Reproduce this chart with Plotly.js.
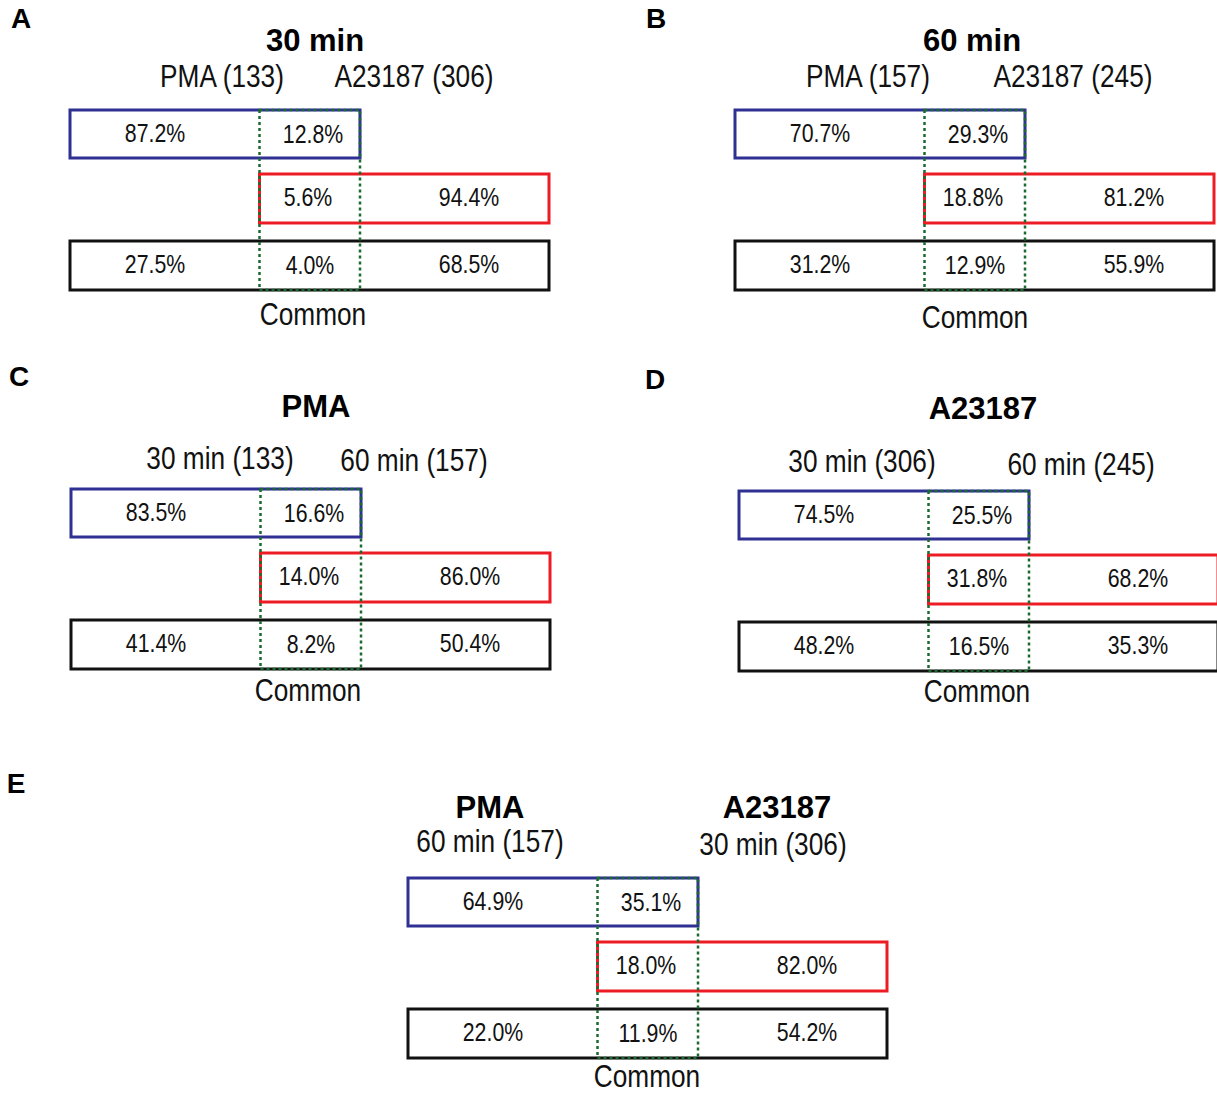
<!DOCTYPE html>
<html>
<head>
<meta charset="utf-8">
<script src="https://cdn.plot.ly/plotly-3.0.1.min.js"></script>
<style>html,body{margin:0;padding:0;background:#fff;}#chart{width:1217px;height:1093px;}</style>
</head>
<body>
<div id="chart"></div>
<script>
// ---------- DATA ----------
const panelLetters = ['A', 'B', 'C', 'D', 'E'];
const panelTitles = ['30 min', '60 min', 'PMA', 'A23187', ''];
const leftTitles = ['', '', '', '', 'PMA'];
const rightTitles = ['', '', '', '', 'A23187'];
const leftLabels = ['PMA (133)', 'PMA (157)', '30 min (133)', '30 min (306)', '60 min (157)'];
const rightLabels = ['A23187 (306)', 'A23187 (245)', '60 min (157)', '60 min (245)', '30 min (306)'];
const commonLabel = 'Common';
// first set row (blue): unique / shared
const firstOnly = [87.2, 70.7, 83.5, 74.5, 64.9];
const firstShared = [12.8, 29.3, 16.6, 25.5, 35.1];
// second set row (red): shared / unique
const secondShared = [5.6, 18.8, 14.0, 31.8, 18.0];
const secondOnly = [94.4, 81.2, 86.0, 68.2, 82.0];
// union row (black): first only / common / second only
const unionFirst = [27.5, 31.2, 41.4, 48.2, 22.0];
const unionCommon = [4.0, 12.9, 8.2, 16.5, 11.9];
const unionSecond = [68.5, 55.9, 50.4, 35.3, 54.2];

// ---------- LAYOUT (positions / styles) ----------
const W = 1217, H = 1093;
const origins = [[70, 110], [735, 110], [71, 489], [739, 491], [408, 878]];
const letterPos = [[21, 21], [656, 21], [19, 379], [655, 382], [16, 786]];
const titleOff = [[245, -67], [237, -67], [245, -80], [244, -80], [0, 0]];
const leftLabelOff = [[152, -31], [133, -31], [149, -28], [123, -27], [82, -34]];
const rightLabelOff = [[344, -31], [338, -31], [343, -26], [342, -24], [365, -31]];
const sideTitleOff = [[82, -68], [369, -68]]; // for panel E
const commonOff = [[243, 207], [240, 210], [237, 204], [238, 203], [239, 201]];
const colL = 189.5, colC = 100.5, colR = 189;
const rows = [[0, 48], [64, 113], [131, 180]];
const txL = 85, txC = 240, txR = 399, txDy = 1.5;
const BLUE = '#2E3192', RED = '#ED1C24', BLACK = '#111111', GREEN = '#1B6B30';
const SANS = '"Liberation Sans", Arial, sans-serif';
const NARROW_SCALE = 0.82;
const pct = v => v.toFixed(1) + '%';

const shapes = [];
const tx = [], ty = [], tt = [];
const hx = [], hy = [], ht = [];
const bx = [], by = [], bt = [];
const lx = [], ly = [], lt = [];

panelLetters.forEach((L, i) => {
  const [ox, oy] = origins[i];
  const xC0 = ox + colL, xC1 = xC0 + colC, xR1 = xC1 + colR;
  const rect = (x0, x1, r, color, dash, w) => shapes.push({
    type: 'rect', xref: 'x', yref: 'y', x0: x0, x1: x1,
    y0: oy + rows[r][0], y1: oy + rows[r][1],
    line: {color: color, width: w, dash: dash}, fillcolor: 'rgba(0,0,0,0)'
  });
  rect(ox, xC1, 0, BLUE, 'solid', 3);
  rect(xC0, xR1, 1, RED, 'solid', 3);
  rect(ox, xR1, 2, BLACK, 'solid', 3);
  shapes.push({type: 'rect', xref: 'x', yref: 'y', x0: xC0, x1: xC1,
    y0: oy + rows[0][0], y1: oy + rows[2][1],
    line: {color: GREEN, width: 2.5, dash: 'dot'}, fillcolor: 'rgba(0,0,0,0)'});

  const cy = r => oy + (rows[r][0] + rows[r][1]) / 2 + txDy;
  const add = (x, y, t) => { tx.push(x); ty.push(y); tt.push(t); };
  add(ox + txL, cy(0), pct(firstOnly[i]));
  add(ox + txC + 3, cy(0) + 1, pct(firstShared[i]));
  add(ox + txC - 2, cy(1), pct(secondShared[i]));
  add(ox + txR, cy(1), pct(secondOnly[i]));
  add(ox + txL, cy(2), pct(unionFirst[i]));
  add(ox + txC, cy(2) + 1, pct(unionCommon[i]));
  add(ox + txR, cy(2), pct(unionSecond[i]));

  hx.push(ox + leftLabelOff[i][0]); hy.push(oy + leftLabelOff[i][1]); ht.push(leftLabels[i]);
  hx.push(ox + rightLabelOff[i][0]); hy.push(oy + rightLabelOff[i][1]); ht.push(rightLabels[i]);
  hx.push(ox + commonOff[i][0]); hy.push(oy + commonOff[i][1]); ht.push(commonLabel);

  if (panelTitles[i]) { bx.push(ox + titleOff[i][0]); by.push(oy + titleOff[i][1]); bt.push('<b>' + panelTitles[i] + '</b>'); }
  if (leftTitles[i]) { bx.push(ox + sideTitleOff[0][0]); by.push(oy + sideTitleOff[0][1]); bt.push('<b>' + leftTitles[i] + '</b>'); }
  if (rightTitles[i]) { bx.push(ox + sideTitleOff[1][0]); by.push(oy + sideTitleOff[1][1]); bt.push('<b>' + rightTitles[i] + '</b>'); }
  lx.push(letterPos[i][0]); ly.push(letterPos[i][1]); lt.push('<b>' + L + '</b>');
});

const base = {type: 'scatter', mode: 'text', textposition: 'middle center', hoverinfo: 'skip', cliponaxis: false, showlegend: false};
const traces = [
  Object.assign({}, base, {x: tx, y: ty, text: tt, textfont: {family: SANS, size: 26, color: '#111'}}),
  Object.assign({}, base, {x: hx, y: hy, text: ht, textfont: {family: SANS, size: 32, color: '#111'}}),
  Object.assign({}, base, {x: bx, y: by, text: bt, textfont: {family: SANS, size: 31, color: '#000'}}),
  Object.assign({}, base, {x: lx, y: ly, text: lt, textfont: {family: SANS, size: 28, color: '#000'}})
];

const layout = {
  width: W, height: H,
  margin: {l: 0, r: 0, t: 0, b: 0},
  paper_bgcolor: '#fff', plot_bgcolor: '#fff',
  xaxis: {range: [0, W], visible: false, fixedrange: true},
  yaxis: {range: [H, 0], visible: false, fixedrange: true},
  shapes: shapes,
  showlegend: false
};
Plotly.newPlot('chart', traces, layout, {staticPlot: true, displayModeBar: false}).then(gd => {
  // narrow (condensed) rendering for the regular-weight labels
  const traceGroups = gd.querySelectorAll('.scatterlayer .trace');
  [0, 1].forEach(k => {
    const g = traceGroups[k];
    if (!g) return;
    g.querySelectorAll('text').forEach(t => {
      const x = parseFloat(t.getAttribute('x'));
      const prev = t.getAttribute('transform') || '';
      t.setAttribute('transform', prev + ' translate(' + x + ',0) scale(' + NARROW_SCALE + ',1) translate(' + (-x) + ',0)');
    });
  });
});
</script>
</body>
</html>
